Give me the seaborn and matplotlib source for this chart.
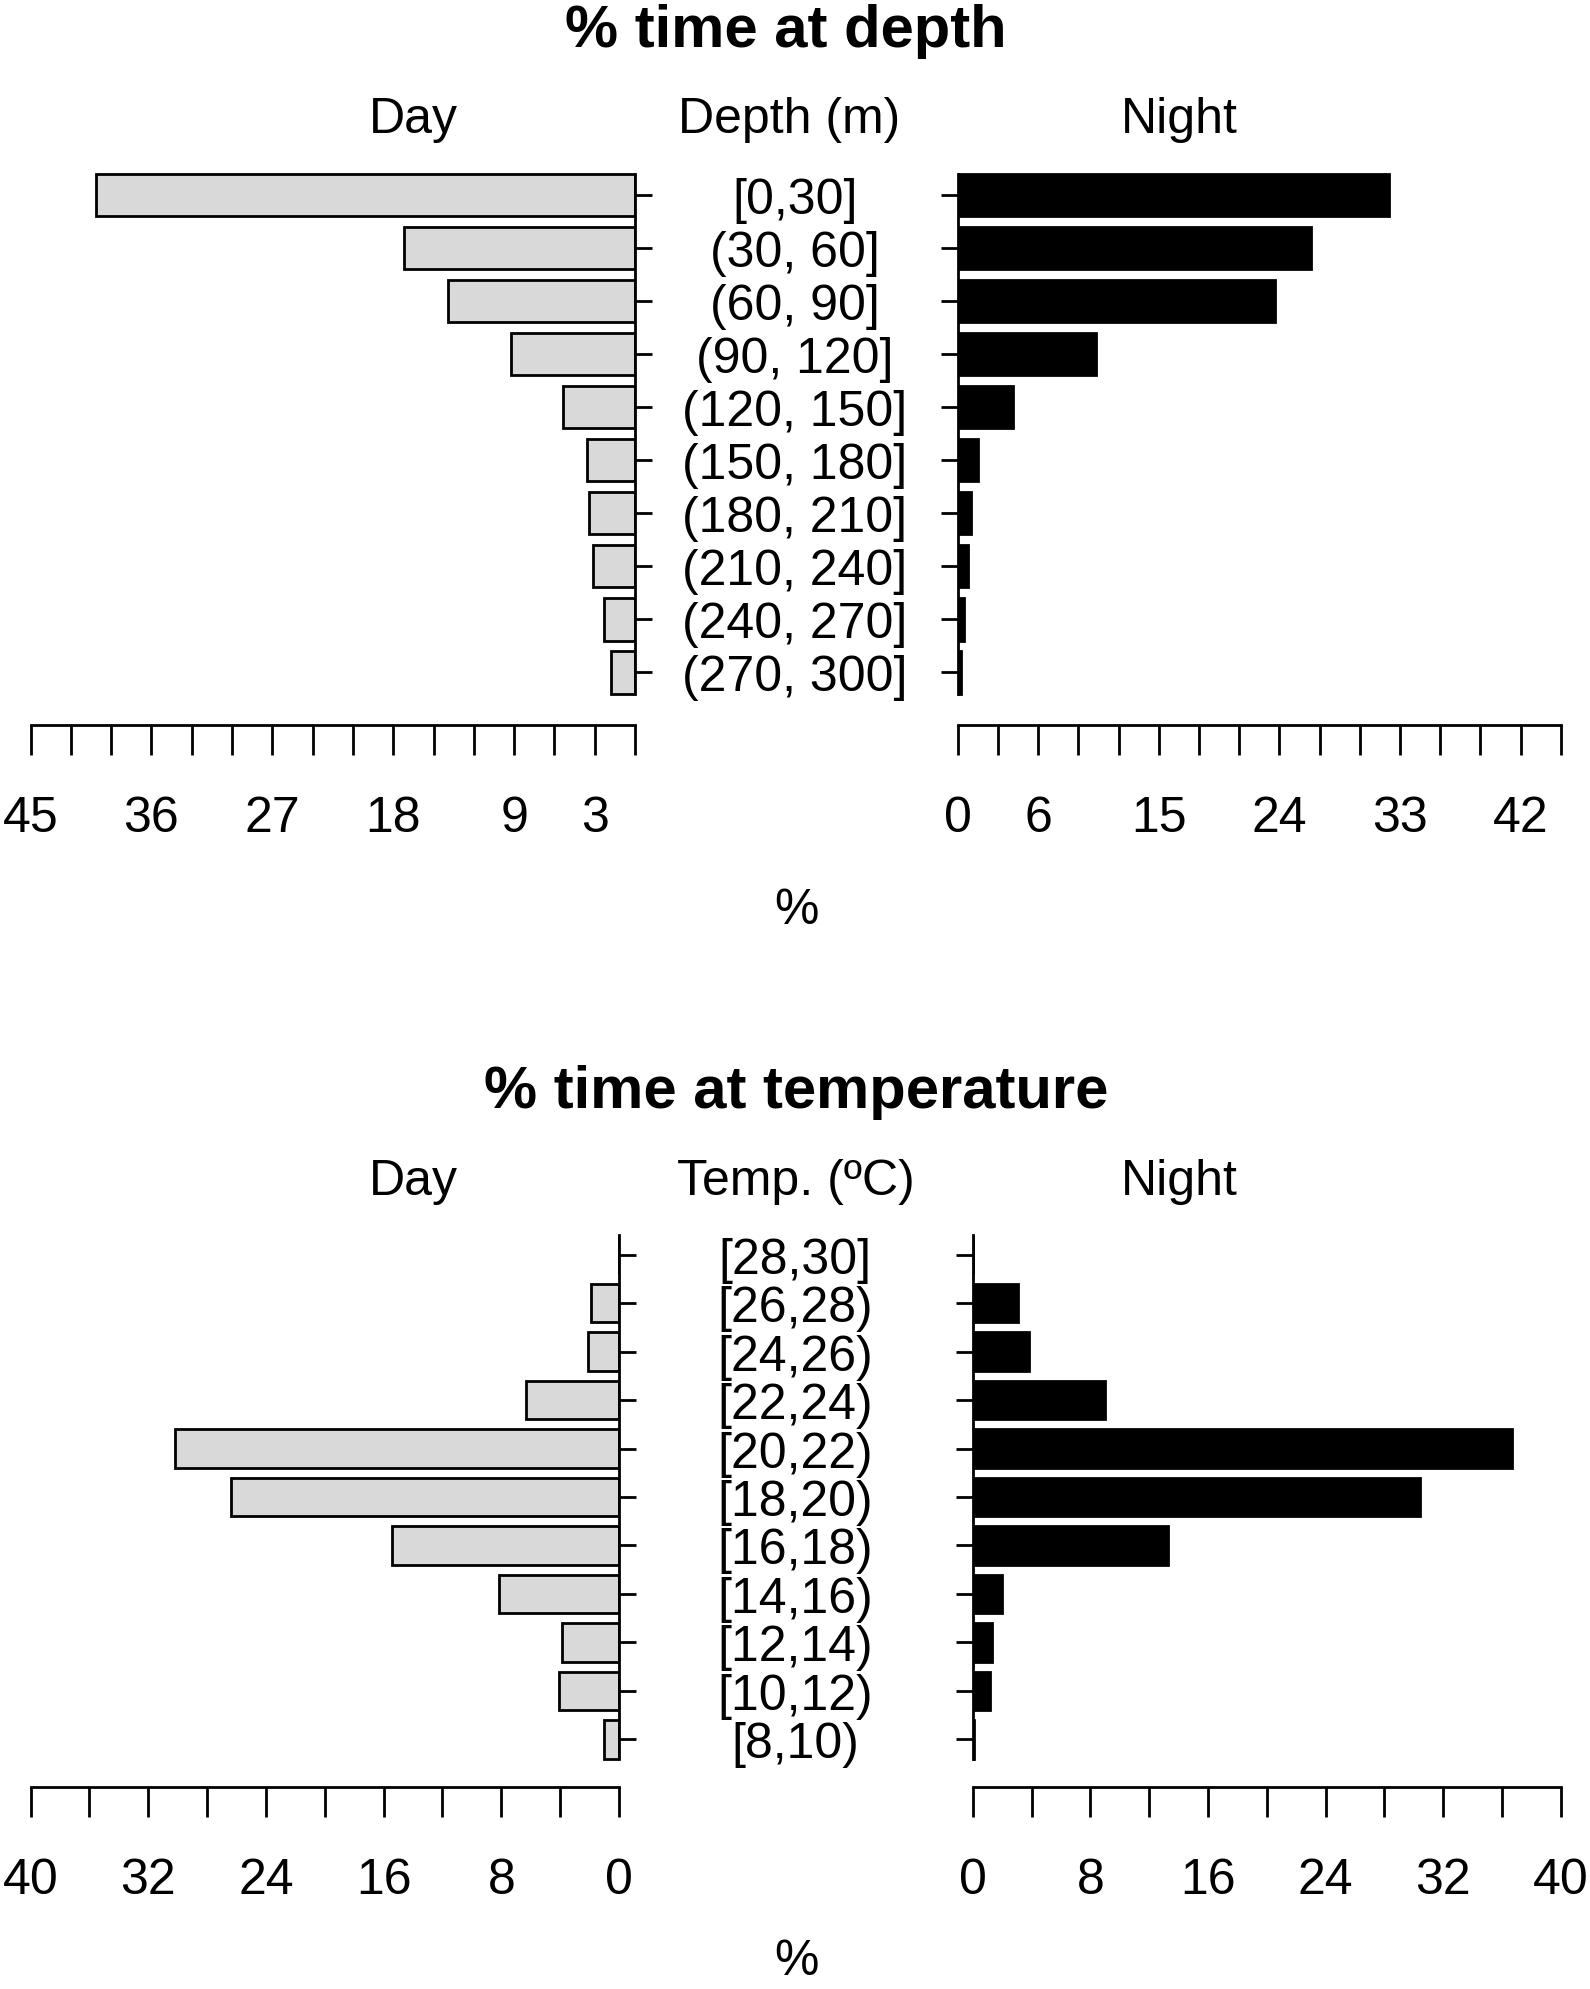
import matplotlib
matplotlib.use("Agg")
import matplotlib.pyplot as plt
import matplotlib.transforms as mtrans
import numpy as np
import pandas as pd
import seaborn as sns

# ---------------- data ----------------
depth_bins = ["[0,30]", "(30, 60]", "(60, 90]", "(90, 120]", "(120, 150]",
              "(150, 180]", "(180, 210]", "(210, 240]", "(240, 270]", "(270, 300]"]
depth_day = [40.1, 17.2, 13.9, 9.2, 5.35, 3.55, 3.45, 3.1, 2.3, 1.8]
depth_night = [32.2, 26.4, 23.7, 10.3, 4.15, 1.55, 1.0, 0.8, 0.5, 0.25]
depth_day_ticklabels = [45, 36, 27, 18, 9, 3]
depth_night_ticklabels = [0, 6, 15, 24, 33, 42]

temp_bins = ["[28,30]", "[26,28)", "[24,26)", "[22,24)", "[20,22)", "[18,20)",
             "[16,18)", "[14,16)", "[12,14)", "[10,12)", "[8,10)"]
temp_day = [0.0, 1.9, 2.1, 6.35, 30.2, 26.4, 15.45, 8.15, 3.85, 4.1, 1.05]
temp_night = [0.0, 3.1, 3.85, 9.0, 36.7, 30.4, 13.3, 2.0, 1.3, 1.15, 0.1]
temp_day_ticklabels = [40, 32, 24, 16, 8, 0]
temp_night_ticklabels = [0, 8, 16, 24, 32, 40]

# ---------------- style ----------------
sns.set_style("white")
plt.rcParams["font.family"] = ["Liberation Sans", "DejaVu Sans"]
plt.rcParams["text.color"] = "black"
plt.rcParams["axes.labelcolor"] = "black"
plt.rcParams["xtick.color"] = "black"
plt.rcParams["ytick.color"] = "black"
plt.rcParams["axes.edgecolor"] = "black"

W, H = 1590, 1990
DPI = 100
fig = plt.figure(figsize=(W / DPI, H / DPI), dpi=DPI)
fig.patch.set_facecolor("white")

FS = 36
TFS = 43
LW = 2.0
DAY_COLOR = "#D9D9D9"
NIGHT_COLOR = "#000000"


def px_axes(x0, x1, y0, y1):
    return fig.add_axes([x0 / W, 1 - y1 / H, (x1 - x0) / W, (y1 - y0) / H])


def panel(x0, x1, y_top, y_axis, c0, spacing, cats, vals, color, xmax, step,
          ticklabels, side):
    ax = px_axes(x0, x1, y_top, y_axis)
    n = len(cats)
    df = pd.DataFrame({"bin": cats, "pct": vals})
    sns.barplot(data=df, x="pct", y="bin", order=cats, orient="h", color=color,
                saturation=1, edgecolor="black", linewidth=2.0, width=0.8, ax=ax)
    ybot = (y_axis - c0) / spacing
    ytop = (y_top - c0) / spacing
    ax.set_ylim(ybot, ytop)
    if side == "left":
        ax.set_xlim(xmax, 0)
    else:
        ax.set_xlim(0, xmax)
    ax.set_xlabel("")
    ax.set_ylabel("")
    for s in ax.spines.values():
        s.set_linewidth(LW)
        s.set_color("black")
    ax.spines["top"].set_visible(False)
    if side == "left":
        ax.spines["left"].set_visible(False)
        ax.yaxis.tick_right()
        ysp = ax.spines["right"]
    else:
        ax.spines["right"].set_visible(False)
        ax.yaxis.tick_left()
        ysp = ax.spines["left"]
    ysp.set_bounds(-0.4, n - 1 + 0.4)
    ax.spines["bottom"].set_bounds(0, xmax)
    ax.set_yticks(range(n))
    ax.set_yticklabels([])
    ax.tick_params(axis="y", direction="out", length=12, width=LW, color="black")
    ticks = np.arange(0, xmax + 1, step)
    ax.set_xticks(ticks)
    ax.set_xticklabels([str(int(t)) if int(t) in ticklabels else "" for t in ticks],
                       fontsize=FS)
    ax.tick_params(axis="x", bottom=True, top=False, direction="out", length=21.6,
                   width=LW, pad=29, color="black", labelcolor="black")
    ax.set_facecolor("none")
    return ax


# ---------------- top: depth ----------------
c0_d, sp_d = 196.0, 53.04
axdl = panel(30.6, 635.0, 160, 726, c0_d, sp_d, depth_bins, depth_day, DAY_COLOR,
             45, 3, depth_day_ticklabels, "left")
axdr = panel(957.7, 1560.7, 160, 726, c0_d, sp_d, depth_bins, depth_night, NIGHT_COLOR,
             45, 3, depth_night_ticklabels, "right")
tr = mtrans.blended_transform_factory(fig.transFigure, axdl.transData)
for i, lab in enumerate(depth_bins):
    axdl.text(795 / W, i, lab, transform=tr, ha="center", va="center_baseline",
              fontsize=FS, clip_on=False)

# ---------------- bottom: temperature ----------------
c0_t, sp_t = 1255.6, 48.48
axtl = panel(30.6, 619.0, 1225, 1788, c0_t, sp_t, temp_bins, temp_day, DAY_COLOR,
             40, 4, temp_day_ticklabels, "left")
axtr = panel(972.8, 1560.7, 1225, 1788, c0_t, sp_t, temp_bins, temp_night, NIGHT_COLOR,
             40, 4, temp_night_ticklabels, "right")
tr2 = mtrans.blended_transform_factory(fig.transFigure, axtl.transData)
for i, lab in enumerate(temp_bins):
    axtl.text(795 / W, i, lab, transform=tr2, ha="center", va="center_baseline",
              fontsize=FS, clip_on=False)


# ---------------- headings ----------------
def ftext(x, y, s, va="baseline", **kw):
    fig.text(x / W, 1 - y / H, s, ha="center", va=va, color="black", **kw)


ftext(786, 47, "% time at depth", fontsize=TFS, fontweight="bold")
ftext(413, 133, "Day", fontsize=FS)
ftext(789, 133, "Depth (m)", fontsize=FS)
ftext(1179, 133, "Night", fontsize=FS)
ftext(796, 924, "%", fontsize=FS)

ftext(796, 1108, "% time at temperature", fontsize=TFS, fontweight="bold")
ftext(413, 1195, "Day", fontsize=FS)
ftext(796, 1195, "Temp. (\u00baC)", fontsize=FS)
ftext(1179, 1195, "Night", fontsize=FS)
ftext(796, 1962, "%", va="center", fontsize=FS)

fig.savefig("out.png", dpi=DPI, facecolor="white")
